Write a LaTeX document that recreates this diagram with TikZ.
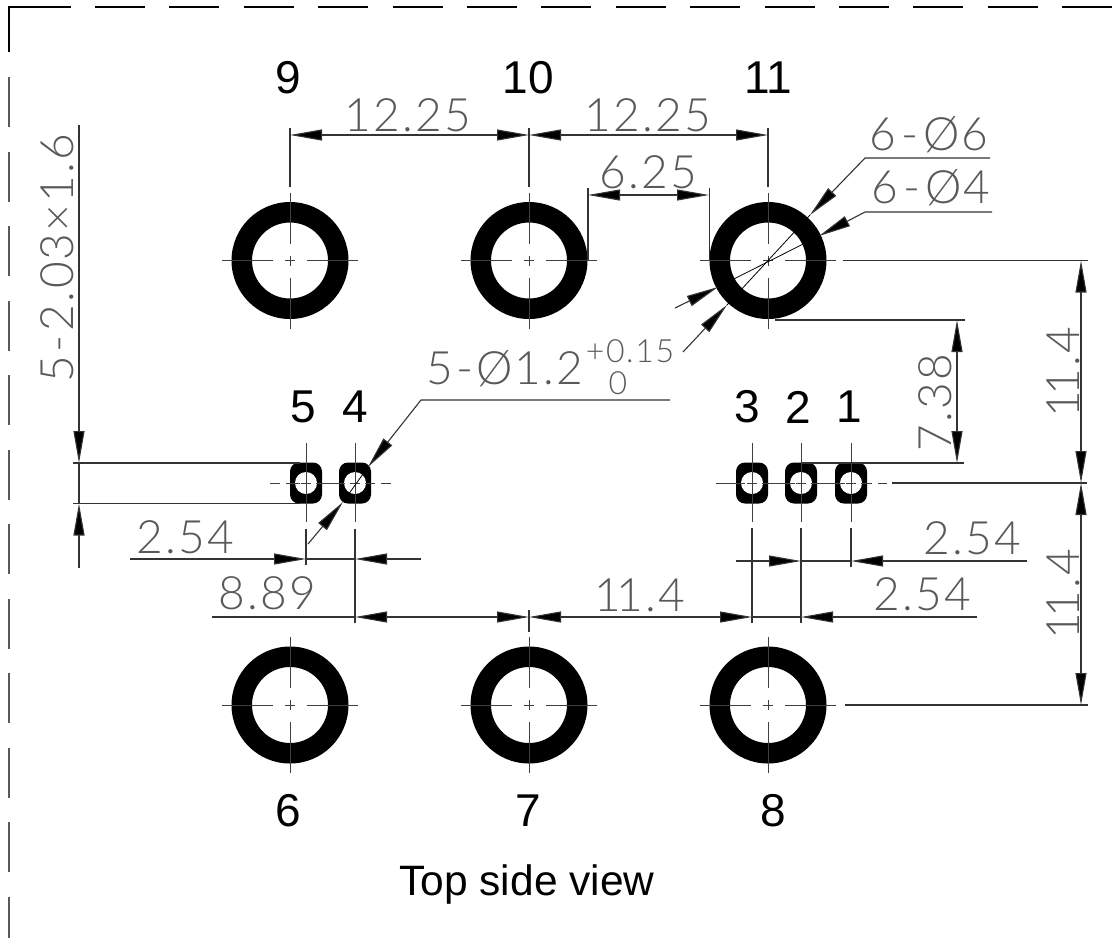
\documentclass[tikz,border=0pt]{standalone}
\usepackage{fontspec}
\usetikzlibrary{arrows.meta}
\setmainfont{Liberation Sans}
\newfontfamily\dimfont[UprightFont={* Light},LetterSpace=5]{Lato}
\tikzset{
  thinline/.style={line width=1.1pt,black!80},
  ctrline/.style={line width=1pt,black!75},
  pinlabel/.style={inner sep=0pt,font=\fontsize{46}{46}\selectfont},
  dimtext/.style={inner sep=0pt,text=black!65,font=\dimfont\fontsize{46}{46}\selectfont},
  smalldim/.style={inner sep=0pt,text=black!65,font=\dimfont\fontsize{32}{32}\selectfont}
}
\begin{document}
\begin{tikzpicture}[x=1pt,y=-1pt,>={Triangle[length=32pt,width=11pt,fill=black]}]

  \useasboundingbox (0,0) rectangle (1118,938);

  % ramecek
  \draw[line width=1.3pt] (9,52)--(9,7)--(71,7);
  \draw[line width=1.3pt,dash pattern=on 50pt off 24.4pt] (95,7)--(1118,7);
  \draw[line width=1.3pt,black!65,dash pattern=on 50pt off 24.5pt] (9,77)--(9,938);

  \def\Ty{260.5};   % horni rada
  \def\By{705};     % dolni rada
  \def\My{483};     % piny

  % velke otvory
  \foreach \name/\x/\y in {p9/290/\Ty,p10/529/\Ty,p11/768/\Ty,p6/290/\By,p7/529/\By,p8/768/\By}
  {
    \coordinate (\name) at (\x,\y);
    \fill[black,even odd rule] (\name) circle (58.5) (\name) circle (38);
    \draw[ctrline] (\x-68,\y)--(\x-17,\y) (\x-5,\y)--(\x+5,\y) (\x+17,\y)--(\x+68,\y);
    \draw[ctrline] (\x,\y-68)--(\x,\y-17) (\x,\y-5)--(\x,\y+5) (\x,\y+17)--(\x,\y+68);
  }

  % male piny
  \foreach \name/\x in {p5/306,p4/355,p3/752,p2/801,p1/851}
  {
    \coordinate (\name) at (\x,\My);
    \fill[black,rounded corners=9pt] (\x-16,\My-20.5) rectangle (\x+16,\My+20.5);
    \fill[white] (\name) circle (11);
    \draw[ctrline] (\x,\My-40)--(\x,\My+39);
  }
  \foreach \a/\b in {270/280,286/300,301/311,316/345,350/360,365/375,381/391,
                     716/745,747/757,762/795,796/806,811/845,846/856,861/872,878/887}
  {
    \draw[ctrline] (\a,\My)--(\b,\My);
  }

  % popisky pinu
  \node[pinlabel] (n9) at (288,78) {9};
  \node[pinlabel] (n10) at (528,78) {10};
  \node[pinlabel] (n11) at (768,78) {11};
  \node[pinlabel] (n5) at (303,407) {5};
  \node[pinlabel] (n4) at (355,407) {4};
  \node[pinlabel] (n3) at (747,407) {3};
  \node[pinlabel] (n2) at (798,407) {2};
  \node[pinlabel] (n1) at (849,407) {1};
  \node[pinlabel] (n6) at (288,811) {6};
  \node[pinlabel] (n7) at (528,811) {7};
  \node[pinlabel] (n8) at (773,811) {8};
  \node[inner sep=0pt,font=\fontsize{42.5}{42.5}\selectfont] (title) at (527,884) {Top side view};

  % horni koty
  \coordinate (T9) at (290,135);
  \coordinate (T10) at (529,135);
  \coordinate (T11) at (768,135);
  \draw[thinline] (290,128)--(290,187) (529,128)--(529,187) (768,128)--(768,187);
  \draw[thinline,<->] (T9)--(T10);
  \draw[thinline,<->] (T10)--(T11);
  \node[dimtext] (d1225a) at (408,115) {12.25};
  \node[dimtext] (d1225b) at (648,115) {12.25};

  \coordinate (Wl) at (588,195);
  \coordinate (Wr) at (709,195);
  \draw[thinline] (588,188)--(588,260) (709.5,188)--(709.5,260);
  \draw[thinline,<->] (Wl)--(Wr);
  \node[dimtext] (d625) at (648,172) {6.25};

  % prumery
  \coordinate (Da) at (810,215);
  \coordinate (Db) at (727,305);
  \coordinate (Ea) at (819,236);
  \coordinate (Eb) at (718,287);
  \draw[thinline,->] (990,158)--(865,158)--(Da);
  \draw[thinline,->] (992,212)--(865,212)--(Ea);
  \draw[thinline,->] (683,352)--(Db);
  \draw[thinline,->] (675,308)--(Eb);
  \draw[line width=0.8pt,black] (Da)--(Db);
  \draw[line width=0.8pt,black] (Ea)--(Eb);
  \node[dimtext] (d6a) at (929,135) {6\kern5pt-\kern5pt Ø6};
  \node[dimtext] (d6b) at (931,188) {6\kern5pt-\kern5pt Ø4};

  % prumer pinu
  \coordinate (Fa) at (368,467);
  \coordinate (Fb) at (343,502);
  \draw[thinline,->] (670,400)--(421,400)--(Fa);
  \draw[thinline,->] (308,544)--(Fb);
  \draw[line width=0.8pt,black] (Fa)--(Fb);
  \node[dimtext] (d12) at (505,369) {5\kern3pt-\kern3pt Ø1.2};
  \node[smalldim] (dplus) at (630,351) {+0.15};
  \node[smalldim] (dzero) at (618,383) {0};

  % prava strana
  \coordinate (Ra) at (1081,260.5);
  \coordinate (Rb) at (1081,483);
  \coordinate (Rc) at (1081,705);
  \coordinate (Ga) at (957,320);
  \coordinate (Gb) at (957,463);
  \draw[thinline] (843,260.5)--(1088,260.5);
  \draw[thinline] (892,483)--(1087,483);
  \draw[thinline] (845,705)--(1088,705);
  \draw[thinline] (775,320)--(965,320);
  \draw[thinline] (801,463)--(964,463);
  \draw[thinline,<->] (Ra)--(Rb);
  \draw[thinline,<->] (Rb)--(Rc);
  \draw[thinline,<->] (Ga)--(Gb);
  \node[dimtext,rotate=90] (d114a) at (1063,372) {1\kern-5pt 1.4};
  \node[dimtext,rotate=90] (d114b) at (1063,594) {1\kern-5pt 1.4};
  \node[dimtext,rotate=90] (d738) at (935,403) {7.38};

  % leva strana
  \coordinate (La) at (79,463);
  \coordinate (Lb) at (79,503.5);
  \draw[thinline] (73,463)--(300,463);
  \draw[thinline] (73,503.5)--(300,503.5);
  \draw[thinline,->] (79,125)--(La);
  \draw[thinline,->] (79,568)--(Lb);
  \draw[thinline] (La)--(Lb);
  \node[dimtext,rotate=90] (d203) at (57,258) {5\kern4pt-\kern4pt 2.03×1.6};

  % spodni koty
  \coordinate (U5) at (306,559);
  \coordinate (U4) at (355,559);
  \draw[thinline] (306,529)--(306,565);
  \draw[thinline] (355,529)--(355,623);
  \draw[thinline,->] (130,559)--(U5);
  \draw[thinline,->] (421,559)--(U4);
  \draw[thinline] (U5)--(U4);
  \node[dimtext] (d254a) at (185,537) {2.54};

  \coordinate (V4) at (355,617);
  \coordinate (V7) at (529,617);
  \coordinate (V3) at (752,617);
  \coordinate (V2) at (801,617);
  \draw[thinline] (212,617)--(V4);
  \draw[thinline,<->] (V4)--(V7);
  \draw[thinline,<->] (V7)--(V3);
  \draw[thinline] (V3)--(V2);
  \draw[thinline,->] (977,617)--(V2);
  \draw[thinline] (529,610)--(529,632);
  \node[dimtext] (d889) at (267,593) {8.89};
  \node[dimtext] (d114c) at (640,595) {1\kern-5pt 1.4};
  \node[dimtext] (d254c) at (922,594) {2.54};

  \coordinate (X2) at (801,561);
  \coordinate (X1) at (851,561);
  \draw[thinline] (752,528)--(752,623);
  \draw[thinline] (801,528)--(801,623);
  \draw[thinline] (851,528)--(851,567);
  \draw[thinline,->] (736,561)--(X2);
  \draw[thinline,->] (1027,561)--(X1);
  \draw[thinline] (X2)--(X1);
  \node[dimtext] (d254b) at (972,538) {2.54};

\end{tikzpicture}
\end{document}
